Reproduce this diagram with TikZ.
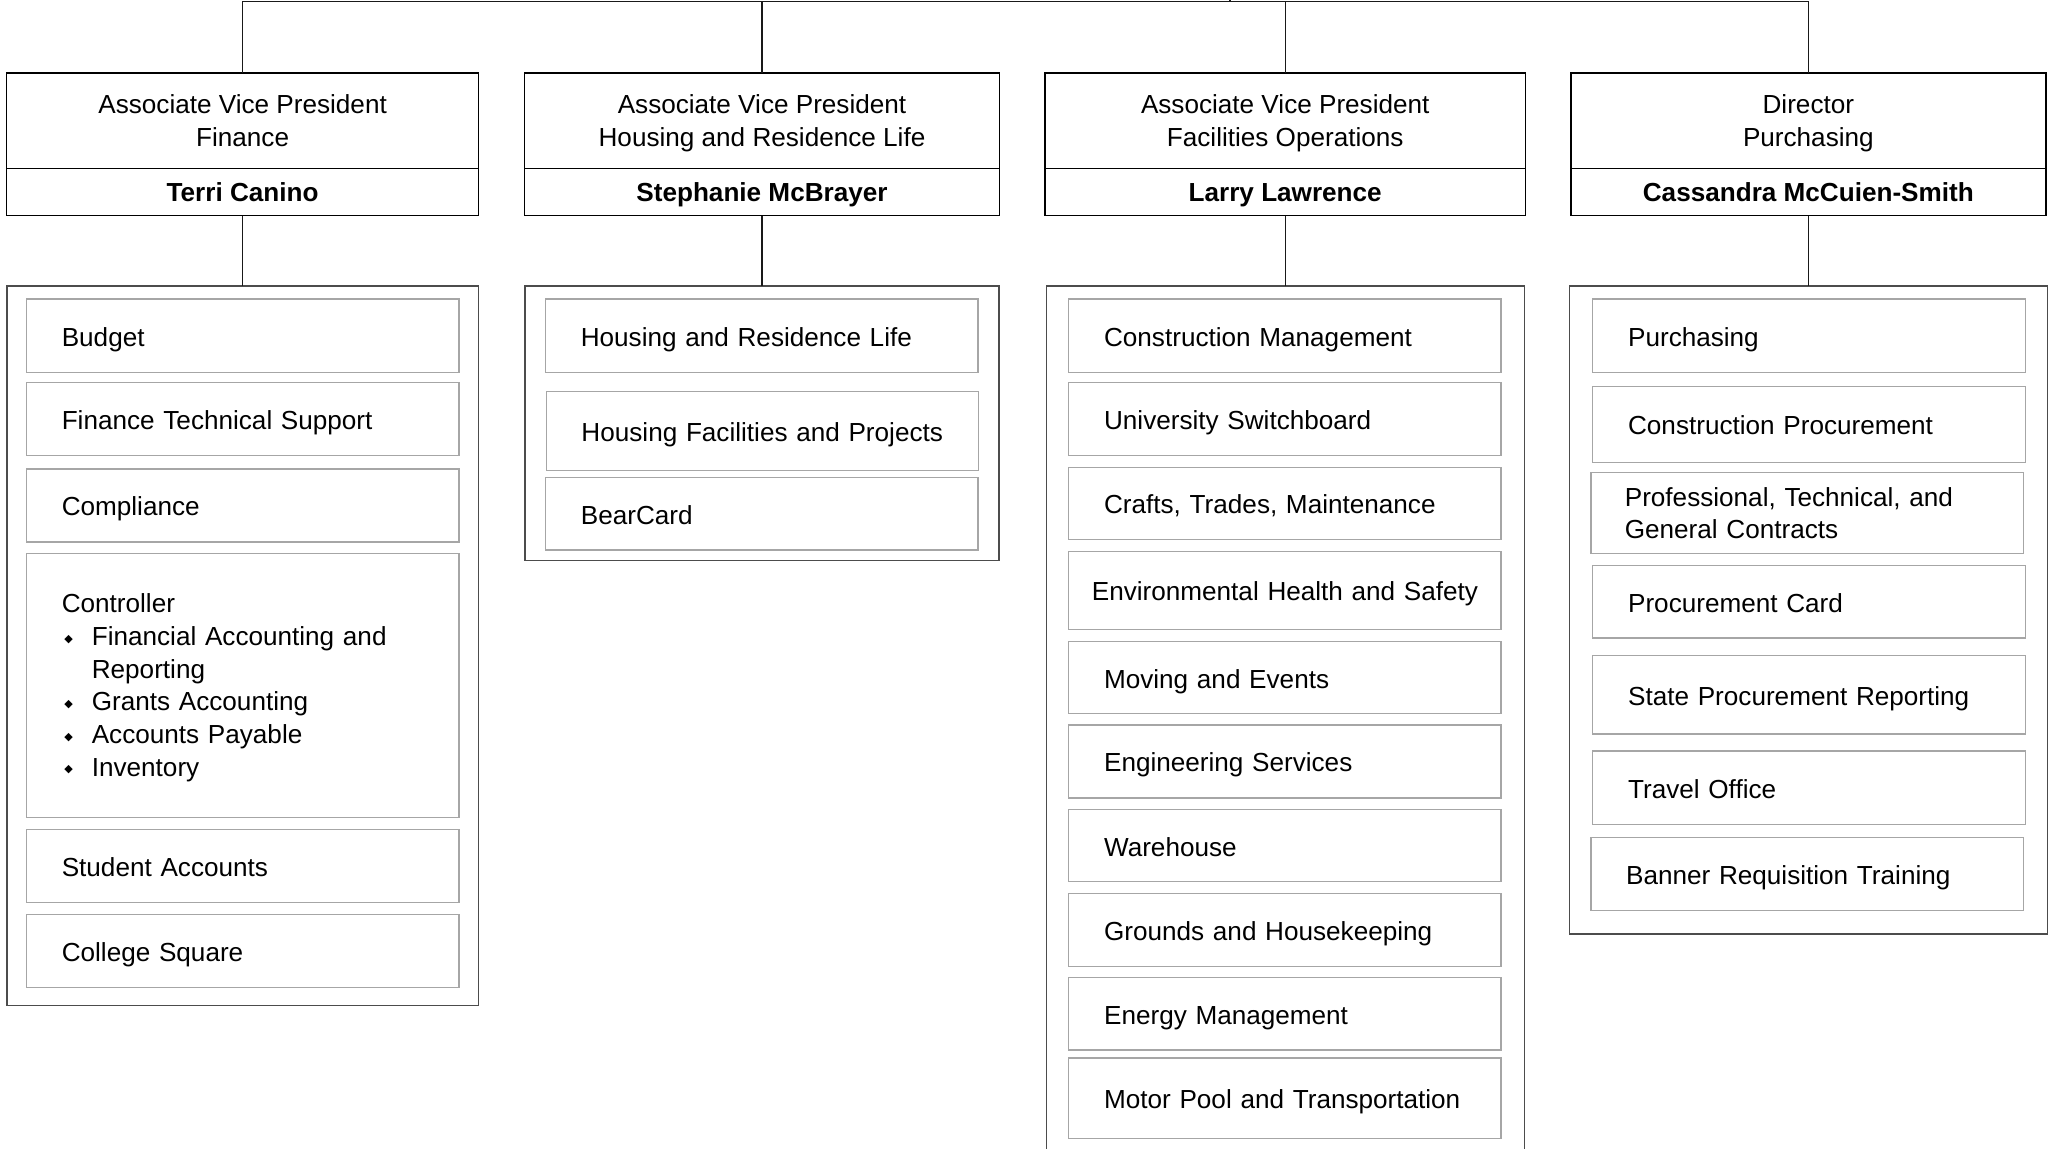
\documentclass[tikz,border=0pt]{standalone}
\usepackage{fontspec}
\setmainfont{Liberation Sans}
\newfontfamily\symfont{DejaVu Sans}
\usetikzlibrary{positioning}
\tikzstyle{hdr} = [draw=black, line width=1.2pt, outer sep=0pt, minimum height=73pt, align=center, font=\fontsize{20}{25.5}\selectfont]
\tikzstyle{who} = [draw=black, line width=1.2pt, outer sep=0pt, minimum height=36pt, text height=16pt, text depth=2pt, font=\fontsize{20}{24}\selectfont\bfseries]
\tikzstyle{grp} = [draw=black!70, line width=1pt, outer sep=0pt, anchor=north]
\tikzstyle{dept} = [draw=black!35, line width=1pt, text width=277pt, inner xsep=27pt, align=left, font=\fontsize{20}{25}\selectfont]
\tikzstyle{deptone} = [dept, text height=18pt, text depth=2pt]
\tikzstyle{wire} = [line width=1pt, black!90]
\newcommand{\bul}{\makebox[23pt][l]{\hspace{2pt}\raisebox{2.5pt}{\symfont\fontsize{8.5}{8.5}\selectfont ◆}}}
\newcommand{\topstrut}{\rule{0pt}{18pt}}
\newcommand{\botstrut}{\rule[-3.9pt]{0pt}{3.9pt}}

\begin{document}
\begin{tikzpicture}[x=1pt,y=-1pt]
\useasboundingbox (0,0) rectangle (1568,879.7);
% heads
\node (t1) [hdr, minimum width=361.5pt, anchor=north] at (185.75,56) {\topstrut Associate Vice President\\Finance\botstrut};
\node (p1) [who, minimum width=361.5pt, below=0pt of t1] {Terri Canino};
\node (t2) [hdr, minimum width=363.6pt, anchor=north] at (583.4,56) {\topstrut Associate Vice President\\Housing and Residence Life\botstrut};
\node (p2) [who, minimum width=363.6pt, below=0pt of t2] {Stephanie McBrayer};
\node (t3) [hdr, minimum width=368pt, anchor=north] at (984,56) {\topstrut Associate Vice President\\Facilities Operations\botstrut};
\node (p3) [who, minimum width=368pt, below=0pt of t3] {Larry Lawrence};
\node (t4) [hdr, minimum width=363.6pt, anchor=north] at (1384.5,56) {\topstrut Director\\Purchasing\botstrut};
\node (p4) [who, minimum width=363.6pt, below=0pt of t4] {Cassandra McCuien-Smith};

% groups
\node (g1) [grp, minimum width=361pt, minimum height=551pt] at (185.75,219) {};
\node (g2) [grp, minimum width=363pt, minimum height=210pt] at (583.4,219) {};
\node (g3) [grp, minimum width=366pt, minimum height=701pt] at (984,219) {};
\node (g4) [grp, minimum width=366pt, minimum height=496pt] at (1384.5,219) {};

% finance
\node (f1) [deptone, minimum height=56pt] at (185.8,257) {Budget};
\node (f2) [deptone, minimum height=56pt] at (185.8,321) {Finance Technical Support};
\node (f3) [deptone, minimum height=56pt] at (185.8,387) {Compliance};
\node (f4) [dept, minimum height=202pt] at (185.8,524.7) {\topstrut Controller\\
\bul Financial Accounting and\\
\hspace*{23pt}Reporting\\
\bul Grants Accounting\\
\bul Accounts Payable\\
\bul Inventory};
\node (f5) [deptone, minimum height=56pt] at (185.8,663) {Student Accounts};
\node (f6) [deptone, minimum height=56pt] at (185.8,728) {College Square};

% housing
\node (h1) [deptone, minimum height=56pt] at (583.2,257) {Housing and Residence Life};
\node (h2) [deptone, minimum height=60pt] at (583.7,330) {Housing Facilities and Projects};
\node (h3) [deptone, minimum height=55.4pt] at (583.2,393.3) {BearCard};

% facilities
\node (o1) [deptone, minimum height=56pt] at (983.8,257) {Construction Management};
\node (o2) [deptone, minimum height=56pt] at (983.8,321) {University Switchboard};
\node (o3) [deptone, minimum height=55pt] at (983.8,385.5) {Crafts, Trades, Maintenance};
\node (o4) [deptone, minimum height=60pt, text width=303pt, inner xsep=14pt, align=center] at (983.8,452) {Environmental Health and Safety};
\node (o5) [deptone, minimum height=55.5pt] at (983.8,518.75) {Moving and Events};
\node (o6) [deptone, minimum height=56pt] at (983.8,583) {Engineering Services};
\node (o7) [deptone, minimum height=55pt] at (983.8,647.5) {Warehouse};
\node (o8) [deptone, minimum height=56pt] at (983.8,712) {Grounds and Housekeeping};
\node (o9) [deptone, minimum height=55.4pt] at (983.8,776.3) {Energy Management};
\node (o10) [deptone, minimum height=61.4pt] at (983.8,840.7) {Motor Pool and Transportation};

% purchasing
\node (b1) [deptone, minimum height=56pt] at (1385,257) {Purchasing};
\node (b2) [deptone, minimum height=58pt] at (1385,325) {Construction Procurement};
\node (b3) [dept, minimum height=62pt, inner xsep=26pt, text width=279pt] at (1383.5,393) {\topstrut Professional, Technical, and\\General Contracts\botstrut};
\node (b4) [deptone, minimum height=55.5pt] at (1385,460.75) {Procurement Card};
\node (b5) [deptone, minimum height=60pt] at (1385,532) {State Procurement Reporting};
\node (b6) [deptone, minimum height=56pt] at (1385,603) {Travel Office};
\node (b7) [deptone, minimum height=56pt] at (1383.5,669) {Banner Requisition Training};

% connectors
\coordinate (top1) at (t1.north |- 0,1);
\coordinate (top2) at (t2.north |- 0,1);
\coordinate (top3) at (t3.north |- 0,1);
\coordinate (top4) at (t4.north |- 0,1);
\coordinate (up) at (941.8,1);
\coordinate (upend) at (941.8,-10);
\draw[wire] (top1) -- (top4);
\draw[wire] (up) -- (upend);
\draw[wire] (top1) -- (t1.north);
\draw[wire] (top2) -- (t2.north);
\draw[wire] (top3) -- (t3.north);
\draw[wire] (top4) -- (t4.north);
\draw[wire] (p1.south) -- (g1.north);
\draw[wire] (p2.south) -- (g2.north);
\draw[wire] (p3.south) -- (g3.north);
\draw[wire] (p4.south) -- (g4.north);
\end{tikzpicture}
\end{document}
